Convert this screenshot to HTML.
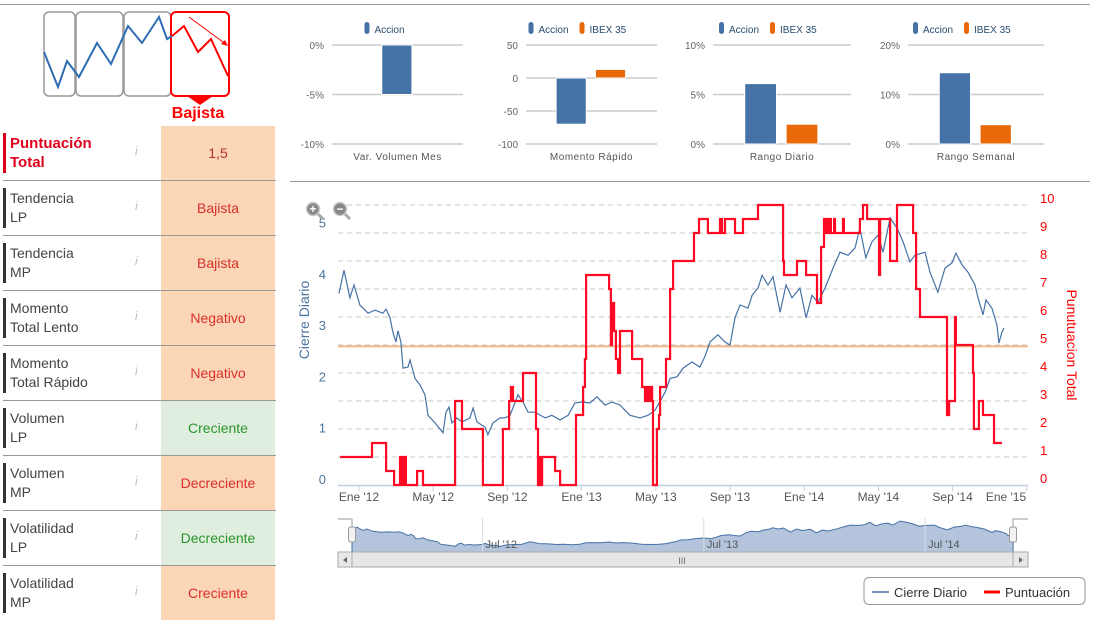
<!DOCTYPE html>
<html><head><meta charset="utf-8">
<style>
body{margin:0;width:1113px;height:618px;overflow:hidden;background:#fff;font-family:"Liberation Sans",sans-serif;position:relative}
.row{position:absolute;left:0;width:276px;height:55px}
.row .bar{position:absolute;left:3px;width:3px;top:7px;height:40px;background:#333}
.row .lbl{position:absolute;left:10px;top:8px;font-size:14px;line-height:19px;color:#444}
.row .info{position:absolute;left:135px;top:18px;font-size:12px;color:#bbb;font-style:italic}
.row .val{position:absolute;left:161px;width:114px;top:0;height:54px;line-height:54px;text-align:center;font-size:14px}
.row .sep{position:absolute;left:3px;width:273px;bottom:0;height:1px;background:#999}
.peach{background:#fad5b6;color:#d9302c}
.green{background:#e0eedf;color:#2a962a}
</style></head><body>
<div style="position:absolute;left:0;top:4px;width:1090px;height:1px;background:#999"></div>
<div style="position:absolute;left:290px;top:181px;width:800px;height:1px;background:#999"></div>

<svg style="position:absolute;left:0;top:0" width="260" height="125">
<rect x="44" y="12" width="31" height="84" rx="5" fill="none" stroke="#999" stroke-width="1.5"/>
<rect x="76" y="12" width="47" height="84" rx="5" fill="none" stroke="#999" stroke-width="1.5"/>
<rect x="124" y="12" width="47" height="84" rx="5" fill="none" stroke="#999" stroke-width="1.5"/>
<rect x="171" y="12" width="58" height="84" rx="5" fill="none" stroke="#f00" stroke-width="2"/>
<polyline points="44,52 58,87 67,61 79,77 97,43 111,64 128,26 142,43 159,17 167,39 172,36" fill="none" stroke="#2e6db4" stroke-width="2"/>
<polyline points="172,36 184,26 198,52 211,39 228,76" fill="none" stroke="#f00" stroke-width="2"/>
<line x1="189" y1="17" x2="227" y2="45" stroke="#f00" stroke-width="1"/>
<polygon points="228,46 221,44 225,40" fill="#f00"/>
<polygon points="187,96 213,96 200,105" fill="#f00"/>
<text x="198" y="118" text-anchor="middle" font-size="16" font-weight="bold" fill="#f00">Bajista</text>
</svg>

<div class="row" style="top:126px">
 <div class="bar" style="background:#e0001b"></div>
 <div class="lbl" style="color:#e0001b;font-weight:bold;font-size:15px;top:8px">Puntuación<br>Total</div>
 <div class="info">i</div>
 <div class="val peach" style="color:#b03030">1,5</div>
 <div class="sep"></div>
</div>
<div class="row" style="top:181px"><div class="bar"></div><div class="lbl">Tendencia<br>LP</div><div class="info">i</div><div class="val peach">Bajista</div><div class="sep"></div></div>
<div class="row" style="top:236px"><div class="bar"></div><div class="lbl">Tendencia<br>MP</div><div class="info">i</div><div class="val peach">Bajista</div><div class="sep"></div></div>
<div class="row" style="top:291px"><div class="bar"></div><div class="lbl">Momento<br>Total Lento</div><div class="info">i</div><div class="val peach">Negativo</div><div class="sep"></div></div>
<div class="row" style="top:346px"><div class="bar"></div><div class="lbl">Momento<br>Total Rápido</div><div class="info">i</div><div class="val peach">Negativo</div><div class="sep"></div></div>
<div class="row" style="top:401px"><div class="bar"></div><div class="lbl">Volumen<br>LP</div><div class="info">i</div><div class="val green">Creciente</div><div class="sep"></div></div>
<div class="row" style="top:456px"><div class="bar"></div><div class="lbl">Volumen<br>MP</div><div class="info">i</div><div class="val peach">Decreciente</div><div class="sep"></div></div>
<div class="row" style="top:511px"><div class="bar"></div><div class="lbl">Volatilidad<br>LP</div><div class="info">i</div><div class="val green">Decreciente</div><div class="sep"></div></div>
<div class="row" style="top:566px"><div class="bar"></div><div class="lbl">Volatilidad<br>MP</div><div class="info">i</div><div class="val peach">Creciente</div></div>

<svg id="charts" style="position:absolute;left:0;top:0" width="1113" height="618"></svg>

<script>
// ---- small bar charts data ----
const smallTitles = ["Var. Volumen Mes","Momento Rápido","Rango Diario","Rango Semanal"];
const smallAccion = [-5, -70, 6.1, 14.4];
const smallIbex = [null, 13, 2, 3.9];
const smallTicks = [[0,-5,-10],[50,0,-50,-100],[10,5,0],[20,10,0]];
const smallTickLabels = [["0%","-5%","-10%"],["50","0","-50","-100"],["10%","5%","0%"],["20%","10%","0%"]];

// ---- main chart data (months since Jan 2012) ----
const closeMonths = [-1.08,-0.81,-0.49,-0.27,0.05,0.49,0.86,1.29,1.46,1.67,1.83,1.99,2.1,2.26,2.37,2.64,2.75,3.02,3.29,3.56,3.72,4.1,4.53,4.69,4.85,5.01,5.28,5.55,5.98,6.15,6.36,6.79,6.95,7.22,7.6,7.87,8.14,8.57,8.84,9.11,9.49,10.03,10.4,10.84,11.27,11.64,12.02,12.45,12.83,13.26,13.64,14.07,14.61,15.15,15.58,15.96,16.5,16.77,17.14,17.47,17.95,18.38,18.65,18.92,19.35,19.73,20.0,20.27,20.54,20.97,21.19,21.51,21.73,22.05,22.32,22.7,23.02,23.34,23.77,24.1,24.42,24.74,25.12,25.55,25.93,26.36,26.74,27.0,27.32,27.65,27.98,28.25,28.63,29.0,29.33,29.7,29.97,30.51,30.78,31.21,31.59,31.97,32.18,32.51,32.83,33.21,33.37,33.64,33.8,34.12,34.39,34.5,34.66,34.77];
const closeValues = [3.68,4.13,3.59,3.84,3.45,3.29,3.35,3.29,3.37,3.2,2.92,2.73,2.95,2.73,2.22,2.24,2.38,2.02,1.89,1.7,1.3,1.15,0.96,1.36,1.46,1.15,1.25,1.17,1.25,1.44,1.17,1.07,0.92,1.15,1.25,1.25,1.3,1.7,1.56,1.36,1.36,1.25,1.3,1.21,1.3,1.54,1.56,1.54,1.66,1.5,1.56,1.5,1.3,1.25,1.3,1.4,1.75,2.02,2.05,2.22,2.34,2.24,2.45,2.73,2.87,2.73,2.67,3.2,3.45,3.39,3.64,3.78,4.03,3.84,4.0,3.31,3.84,3.59,3.78,3.2,3.64,3.5,3.78,4.17,4.48,4.42,4.56,4.95,4.37,4.68,4.81,4.48,5.15,4.95,4.68,4.29,4.42,4.48,4.09,3.7,4.17,4.27,4.46,4.23,4.09,3.84,3.59,3.26,3.55,3.39,3.06,2.71,2.92,3.0];
const scoreMonths = [-1.02,0.70,1.46,1.89,2.21,2.32,2.43,2.53,3.13,3.45,5.18,5.55,6.68,7.76,8.09,8.19,8.30,8.84,9.54,9.65,9.76,9.81,9.87,10.57,10.84,11.70,12.08,12.18,12.24,13.48,13.58,13.64,13.75,13.85,13.96,14.07,14.72,15.26,15.42,15.53,15.63,15.69,15.80,15.85,16.06,16.17,16.23,16.55,16.77,16.93,18.06,18.33,18.81,19.46,19.57,19.73,20.27,20.70,21.51,22.86,22.91,23.61,24.10,24.69,24.91,25.07,25.12,25.23,25.28,25.39,25.44,25.61,25.66,26.09,26.14,27.0,27.17,27.39,28.03,28.09,28.63,29.0,29.87,30.03,30.24,31.70,31.81,32.13,32.18,33.10,33.15,33.42,33.64,34.23,34.66];
const scoreValues = [1,1.5,0.5,0,1,0,1,0,0.5,0,3,2,0,2,3,3.5,3,4,2,0,1,0,1,0.5,0,2.5,3.5,4.5,7.5,7,5,6.5,5.5,4.5,4,5.5,4.5,3.5,3,3.5,3,3.5,3,0,2,2.5,3.5,4.5,7,8,9,9.5,9,9.5,9,9.5,9,9.5,10,8,7.5,8,7.5,6.5,8.5,9.5,9,9.5,9,9.5,9,9.5,9,9.5,9,9.5,10,9.5,7.5,9.5,8,10,9,7,6,2.5,3,6,5,4,2,3,2.5,1.5,1.5];
const leftTicks = [0,1,2,3,4,5];
const rightTicks = [0,1,2,3,4,5,6,7,8,9,10];
const xTickMonths = [0,4,8,12,16,20,24,28,32,36];
const xTickLabels = ["Ene '12","May '12","Sep '12","Ene '13","May '13","Sep '13","Ene '14","May '14","Sep '14","Ene '15"];
const navTickMonths = [6,18,30];
const navTickLabels = ["Jul '12","Jul '13","Jul '14"];
const refLevel = 4.95;

const NS="http://www.w3.org/2000/svg";
const svg=document.getElementById('charts');
function mk(tag,attrs,parent){const e=document.createElementNS(NS,tag);for(const k in attrs)e.setAttribute(k,attrs[k]);(parent||svg).appendChild(e);return e;}
function txt(s,attrs,parent){const e=mk('text',attrs,parent);e.textContent=s;return e;}

// ---- small charts ----
const smallGeo=[{x0:332,x1:463,lo:-10,hi:0},{x0:526,x1:657,lo:-100,hi:50},{x0:713,x1:851,lo:0,hi:10},{x0:908,x1:1044,lo:0,hi:20}];
smallGeo.forEach((g,i)=>{
  const yS=v=>144-(v-g.lo)/(g.hi-g.lo)*99;
  const grp=mk('g',{});
  
  
  smallTicks[i].forEach((t,j)=>{
    const gl=mk('line',{x1:g.x0,x2:g.x1,y1:yS(t),y2:yS(t),stroke:(t===g.lo?'#c0ccd8':'#ccc'),'stroke-width':1.5},grp);
    
    
    const tl=txt(smallTickLabels[i][j],{x:g.x0-8,y:yS(t)+4,'text-anchor':'end','font-size':10,fill:'#666'},grp);
    
    
  });
  const w=(g.x1-g.x0);
  const zero=Math.max(g.lo,Math.min(g.hi,0));
  const hasI=smallIbex[i]!==null;
  const bx=hasI? g.x0+w*0.23 : g.x0+w*0.38;
  const bw=w*0.23;
  const va=smallAccion[i];
  const b1=mk('rect',{x:bx,y:Math.min(yS(va),yS(zero)),width:bw,height:Math.abs(yS(va)-yS(zero)),fill:'#4572a7',stroke:'#fff','stroke-width':1},grp);
  
  
  if(hasI){
    const vi=smallIbex[i];
    const b2=mk('rect',{x:bx+bw+w*0.07,y:Math.min(yS(vi),yS(zero)),width:bw,height:Math.abs(yS(vi)-yS(zero)),fill:'#e8690a',stroke:'#fff','stroke-width':1},grp);
    
    
  }
  const cx=(g.x0+g.x1)/2;
  const xl=txt(smallTitles[i],{x:cx,y:160,'text-anchor':'middle','font-size':10,fill:'#555','letter-spacing':'0.5'},grp);
  
  
  const lx= hasI? cx-63 : cx-33;
  const m1=mk('rect',{x:lx,y:22,width:5,height:12,rx:2.5,fill:'#4572a7'},grp);
  
  
  const t1=txt('Accion',{x:lx+10,y:33,'font-size':10,fill:'#274b6d'},grp);
  
  
  if(hasI){
    const m2=mk('rect',{x:lx+51,y:22,width:5,height:12,rx:2.5,fill:'#e8690a'},grp);
    
    
    const t2=txt('IBEX 35',{x:lx+61,y:33,'font-size':10,fill:'#274b6d'},grp);
    
    
  }
});

// ---- main chart ----
const xM=m=>359+m*18.55;
const yL=v=>482-51.3*v;
const yR=v=>485-28*v;
const main=mk('g',{});


rightTicks.forEach(t=>{
  if(t>0){
    const gl=mk('line',{x1:338,x2:1028,y1:yR(t),y2:yR(t),stroke:'#c8c8c8','stroke-dasharray':'5,4','stroke-width':1},main);
    
    
  }
  const tl=txt(String(t),{x:1040,y:yR(t)-2,'font-size':13,fill:'#f00'},main);
  
  
});
leftTicks.forEach(t=>{
  const tl=txt(String(t),{x:326,y:yL(t)+2,'text-anchor':'end','font-size':13,fill:'#4d759e'},main);
  
  
});
const ax=mk('line',{x1:338,x2:1028,y1:485.5,y2:485.5,stroke:'#c0d0e0','stroke-width':1.5},main);


xTickMonths.forEach((m,i)=>{
  const x=xM(m);
  const tk=mk('line',{x1:x,x2:x,y1:485,y2:491,stroke:'#c0d0e0'},main);
  
  
  const tl=txt(xTickLabels[i],{x:Math.min(x,1006),y:501,'text-anchor':'middle','font-size':12,fill:'#555'},main);
  
  
});
const ref=mk('line',{x1:338,x2:1028,y1:yR(refLevel),y2:yR(refLevel),stroke:'#f0b88c','stroke-width':2},main);


let d='';
closeMonths.forEach((m,i)=>{d+=(i?'L':'M')+xM(m).toFixed(1)+','+yL(closeValues[i]).toFixed(1);});
const bl=mk('path',{d:d,fill:'none',stroke:'#4572a7','stroke-width':1.2},main);


let d2='';
scoreMonths.forEach((m,i)=>{
  const x=xM(m).toFixed(1), y=yR(scoreValues[i]).toFixed(1);
  d2+= i? 'L'+x+','+yR(scoreValues[i-1]).toFixed(1)+'L'+x+','+y : 'M'+x+','+y;
});
const rl=mk('path',{d:d2,fill:'none',stroke:'#ff0a24','stroke-width':2.2},main);


const yt=txt('Cierre Diario',{transform:'translate(309,320) rotate(-90)','text-anchor':'middle','font-size':14,fill:'#4d759e'},main);


const yt2=txt('Punutuacion Total',{transform:'translate(1067,345) rotate(90)','text-anchor':'middle','font-size':14,fill:'#f00'},main);


[[313,'+','zoom-in-button'],[340,'−','zoom-out-button']].forEach(z=>{
  const g=mk('g',{},main);
  
  
  mk('line',{x1:z[0]+4,y1:213,x2:z[0]+10,y2:219,stroke:'#aaa','stroke-width':3},g);
  mk('circle',{cx:z[0],cy:209,r:6.5,fill:'#888',stroke:'#ccc','stroke-width':1.5},g);
  txt(z[1],{x:z[0],y:213,'text-anchor':'middle','font-size':12,'font-weight':'bold',fill:'#fff'},g);
});

// ---- navigator ----
const xN=m=>352+(m+1.08)*18.44;
const yN=v=>552-v*6;
const nav=mk('g',{});


mk('polyline',{points:'338,519 352,519 352,552 1013,552 1013,519 1028,519',fill:'none',stroke:'#999','stroke-width':1},nav);
let d3='M'+xN(closeMonths[0]).toFixed(1)+',552';
closeMonths.forEach((m,i)=>{d3+='L'+xN(m).toFixed(1)+','+yN(closeValues[i]).toFixed(1);});
d3+='L'+xN(closeMonths[closeMonths.length-1]).toFixed(1)+',552Z';
const na=mk('path',{d:d3,fill:'#b3c4dc',stroke:'#4572a7','stroke-width':1},nav);


navTickMonths.forEach((m,i)=>{
  const x=xN(m);
  mk('line',{x1:x,x2:x,y1:518,y2:552,stroke:'#ddd'},nav);
  const tl=txt(navTickLabels[i],{x:x+3,y:548,'font-size':11,fill:'#555'},nav);
  
  
});
[352,1013].forEach(x=>{
  const h=mk('rect',{x:x-3.5,y:527,width:7,height:15,rx:2,fill:'#f2f2f2',stroke:'#999'},nav);
  
  
});
const sb=mk('g',{},nav);


mk('rect',{x:338,y:552,width:690,height:15,fill:'#eee',stroke:'#bbb'},sb);
mk('rect',{x:352,y:552,width:661,height:15,fill:'#e6e6e6',stroke:'#aaa'},sb);
mk('rect',{x:338,y:552,width:14,height:15,fill:'#e8e8e8',stroke:'#aaa'},sb);
mk('rect',{x:1013,y:552,width:15,height:15,fill:'#e8e8e8',stroke:'#aaa'},sb);
mk('polygon',{points:'347,557 347,563 343,560',fill:'#666'},sb);
mk('polygon',{points:'1019,557 1019,563 1023,560',fill:'#666'},sb);
txt('III',{x:682,y:564,'text-anchor':'middle','font-size':9,fill:'#666'},sb);

// ---- legend ----
const lg=mk('g',{});


mk('rect',{x:864,y:577.5,width:221,height:27,rx:5,fill:'#fff',stroke:'#999'},lg);
const le1=mk('g',{},lg);


mk('line',{x1:872,x2:889,y1:592,y2:592,stroke:'#4572a7','stroke-width':1.5},le1);
txt('Cierre Diario',{x:894,y:597,'font-size':13,fill:'#333'},le1);
const le2=mk('g',{},lg);


mk('line',{x1:984,x2:1000,y1:592,y2:592,stroke:'#f00','stroke-width':3},le2);
txt('Puntuación',{x:1005,y:597,'font-size':13,fill:'#333'},le2);
</script>
</body></html>
